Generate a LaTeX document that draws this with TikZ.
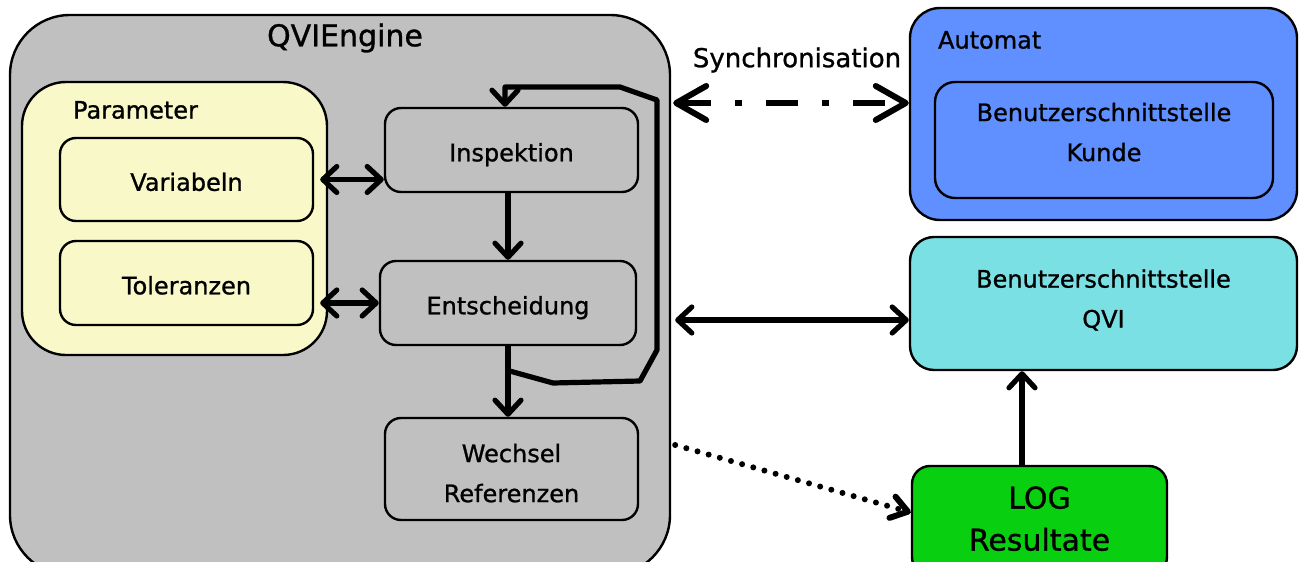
\documentclass[tikz,border=0pt]{standalone}
\usepackage{fontspec}
\setmainfont{DejaVu Sans}[RawFeature={embolden=1.0}]
\usetikzlibrary{arrows.meta}

\definecolor{enginegray}{HTML}{C0C0C0}
\definecolor{paramyellow}{HTML}{F8F8C8}
\definecolor{automatblue}{HTML}{6090FF}
\definecolor{qvicyan}{HTML}{7AE0E4}
\definecolor{loggreen}{HTML}{08D010}

\tikzset{
  box/.style={draw, line width=1.2pt, rounded corners=8pt, align=center,
    inner sep=0pt, font=\fontsize{12}{20}\selectfont},
  oneline/.style={text height=11.3pt, text depth=0pt},
  flow/.style={line width=2.6pt, line join=round},
  tip/.tip={Straight Barb[length=7pt, width=13pt, round]},
  bigtip/.tip={Straight Barb[length=15pt, width=17pt, round]},
}

\begin{document}
\begin{tikzpicture}[x=0.5pt, y=-0.5pt]
  \useasboundingbox (0,0) rectangle (1303,562);
  \clip (0,0) rectangle (1303,562);

  % engine and parameter
  \node[box, fill=enginegray, rounded corners=30pt, minimum width=330pt, minimum height=280pt] (engine) at (340,295) {};
  \node[font=\fontsize{15}{18}\selectfont] (enginetitle) at (345,38) {QVIEngine};
  \node[box, fill=paramyellow, rounded corners=22pt, minimum width=152.5pt, minimum height=136.5pt] (param) at (174.5,218.5) {};
  \node[font=\fontsize{12}{14}\selectfont, anchor=west] (paramtitle) at (66,110) {Parameter};
  \node[box, oneline, fill=paramyellow, minimum width=126.5pt, minimum height=41.5pt] (var) at (186.5,179.5) {Variabeln};
  \node[box, oneline, fill=paramyellow, minimum width=126.5pt, minimum height=42pt] (tol) at (186.5,283) {Toleranzen};

  % steps
  \node[box, oneline, fill=enginegray, minimum width=126.5pt, minimum height=42pt] (insp) at (511.5,150) {Inspektion};
  \node[box, oneline, fill=enginegray, minimum width=128pt, minimum height=42pt] (ents) at (508,303) {Entscheidung};
  \node[box, fill=enginegray, minimum width=126.5pt, minimum height=51pt, text height=33.1pt, text depth=0pt] (wech) at (511.5,469) {Wechsel\\Referenzen};

  % right side
  \node[box, fill=automatblue, rounded corners=15pt, minimum width=193.5pt, minimum height=106pt] (automat) at (1103.5,114) {};
  \node[font=\fontsize{12}{14}\selectfont, anchor=west] (automattitle) at (931,40) {Automat};
  \node[box, fill=automatblue, rounded corners=10pt, minimum width=169pt, minimum height=58pt, text height=29.1pt, text depth=8pt] (kunde) at (1104,140) {Benutzerschnittstelle\\Kunde};
  \node[box, fill=qvicyan, rounded corners=12pt, minimum width=193.5pt, minimum height=66.5pt, text height=29.1pt, text depth=5pt] (qvi) at (1103.5,303.5) {Benutzerschnittstelle\\QVI};
  \node[box, fill=loggreen, rounded corners=9pt, minimum width=127.5pt, minimum height=54.5pt,
    font=\fontsize{15}{21}\selectfont, text height=32.1pt, text depth=2pt] (log) at (1039.5,520.5) {LOG\\Resultate};
  \node[font=\fontsize{13}{15}\selectfont] (synclabel) at (797,60) {Synchronisation};

  % connectors
  \draw[flow, tip-tip] ([xshift=3pt]var.east) -- (var.east -| insp.west);
  \draw[flow, tip-tip] ([xshift=3pt]tol.east |- ents.west) -- (ents.west);
  \draw[flow, -tip] (ents.north |- insp.south) -- (ents.north);
  \draw[flow, -tip] (ents.south) -- (ents.south |- wech.north);
  \coordinate (loopstart) at (506,370);
  \draw[flow, -tip] (loopstart) -- (553,383) -- (640,381) -- (657,350) -- (657,100) -- (620,87)
    -- (505,87) -- (505,0 |- insp.north);
  \draw[line width=3pt, bigtip-bigtip, dash pattern=on 16pt off 12pt on 3.5pt off 12pt]
    ([xshift=1pt]engine.east |- 0,103) -- (automat.west |- 0,103);
  \draw[flow, tip-tip] ([xshift=2pt]engine.east |- 0,320) -- (qvi.west |- 0,320);
  \draw[line width=3pt, line cap=round, dash pattern=on 0pt off 5.8pt,
    -{Straight Barb[length=8pt, width=11pt, round]}]
    ([xshift=2pt]engine.east |- 0,445) -- ([yshift=4pt]log.west);
  \draw[flow, -tip] (1022,0 |- log.north) -- (1022,0 |- qvi.south);
\end{tikzpicture}
\end{document}
